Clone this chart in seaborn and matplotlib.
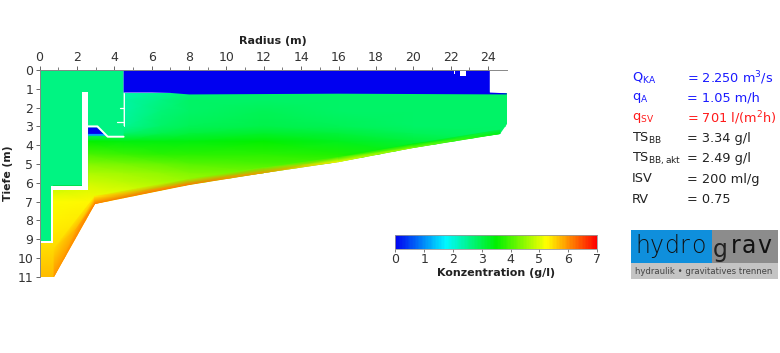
import numpy as np
import pandas as pd
import seaborn as sns
import matplotlib
matplotlib.use('Agg')
import matplotlib.pyplot as plt
from matplotlib.colors import LinearSegmentedColormap
from matplotlib.patches import Polygon, Rectangle

# Konzentration (g/l), one list per radius station
field_radius = [0, 2.6, 4.5, 6.5, 8, 12, 16, 20, 25]
field_depth = [1.2, 1.6, 2.2, 3.0, 3.4, 3.8, 4.5, 5.0, 5.5, 6.0, 7.0, 8.0, 9.0, 11.0]
conc_r0 = [3.6, 3.6, 3.6, 3.6, 3.6, 3.6, 3.9, 4.2, 4.5, 4.7, 5.2, 5.3, 5.4, 5.7]
conc_r26 = [2.3, 2.3, 2.3, 2.3, 2.7, 3.5, 4.0, 4.4, 4.7, 4.9, 5.3, 5.4, 5.5, 5.7]
conc_r45 = [2.3, 2.4, 2.4, 2.5, 2.8, 3.4, 3.9, 4.3, 4.6, 4.8, 5.2, 5.4, 5.5, 5.7]
conc_r65 = [2.5, 2.6, 2.7, 2.8, 3.0, 3.4, 3.8, 4.2, 4.5, 4.7, 5.1, 5.3, 5.4, 5.6]
conc_r8 = [2.7, 2.8, 2.8, 2.9, 3.1, 3.4, 3.8, 4.1, 4.4, 4.6, 5.0, 5.2, 5.3, 5.5]
conc_r12 = [2.8, 2.8, 2.9, 3.0, 3.2, 3.5, 3.8, 4.0, 4.3, 4.6, 5.0, 5.2, 5.3, 5.5]
conc_r16 = [2.8, 2.8, 2.8, 2.9, 3.1, 3.3, 3.7, 4.0, 4.3, 4.6, 5.0, 5.2, 5.3, 5.5]
conc_r20 = [2.8, 2.8, 2.8, 2.8, 2.9, 3.1, 3.5, 3.9, 4.3, 4.6, 5.0, 5.2, 5.3, 5.5]
conc_r25 = [2.8, 2.8, 2.8, 2.8, 2.8, 2.9, 3.5, 3.9, 4.3, 4.6, 5.0, 5.2, 5.3, 5.5]

# sohle: tank floor, with the denser layer along it
floor_radius = [0.78, 2.97, 8, 12, 16, 20, 24.63]
floor_depth = [11.0, 7.13, 6.1, 5.5, 4.9, 4.15, 3.4]
layer_thick = [1.5, 0.4, 0.3, 0.3, 0.25, 0.2, 0.2]
layer_top_conc = [5.5, 5.4, 4.5, 4.2, 3.9, 3.4, 3.0]
layer_floor_conc = [6.0, 6.2, 6.2, 6.0, 5.3, 4.5, 3.4]

inner_conc = 2.6
scale_values = np.arange(0, 7.05, 0.05)
cbar_ticks = [0, 1, 2, 3, 4, 5, 6, 7]

info_labels = [r'Q$_{\mathrm{KA}}$', r'q$_{\mathrm{A}}$', r'q$_{\mathrm{SV}}$', r'TS$_{\mathrm{BB}}$',
               r'TS$_{\mathrm{BB,akt}}$', 'ISV', 'RV']
info_values = [r'= 2.250 m$^3$/s', '= 1.05 m/h', r'= 701 l/(m$^2$h)', '= 3.34 g/l',
               '= 2.49 g/l', '= 200 ml/g', '= 0.75']
info_colors = ['#1a1aff', '#1a1aff', '#ff1a1a', '#222222', '#222222', '#222222', '#222222']
logo_hydro = ['h', 'y', 'd', 'r', 'o']
logo_grav = ['r', 'a', 'v']

sns.set_theme(style='white', font='DejaVu Sans')
cmap = LinearSegmentedColormap.from_list('konz', ['#0000f0', '#00f8ff', '#00f000', '#ffff00', '#ff0000'])
W, H = 780, 353
fig = plt.figure(figsize=(W / 100, H / 100), dpi=100)


def px_axes(x0, y0, x1, y1):
    return fig.add_axes([x0 / W, 1 - y1 / H, (x1 - x0) / W, (y1 - y0) / H])


ax = px_axes(39.5, 70, 506.7, 276.7)
norm = plt.Normalize(0, 7)

# Absetzbecken
outline = [(0, 9.2), (0.74, 9.2), (0.74, 6.3), (2.6, 6.3), (2.6, 3.0), (4.5, 3.0), (4.5, 1.2), (25, 1.2),
           (25, 2.85)] + list(zip(floor_radius[::-1], floor_depth[::-1])) + [(0, 11)]
clip = Polygon(outline, closed=True, transform=ax.transData, fc='none', ec='none')
ax.add_patch(clip)
X, Y = np.meshgrid(field_radius, field_depth)
C = np.array([conc_r0, conc_r26, conc_r45, conc_r65, conc_r8, conc_r12, conc_r16, conc_r20, conc_r25]).T
mesh = ax.pcolormesh(X, Y, C, cmap=cmap, norm=norm, shading='gouraud')
mesh.set_clip_path(clip)

# layer along the floor
fr = np.array(floor_radius)
fd = np.array(floor_depth)
LX = np.vstack([fr, fr])
LY = np.vstack([fd - np.array(layer_thick), fd])
LC = np.vstack([layer_top_conc, layer_floor_conc])
layer = ax.pcolormesh(LX, LY, LC, cmap=cmap, norm=norm, shading='gouraud')
layer.set_clip_path(clip)

# Einlaufbauwerk
ax.add_patch(Polygon([(0, 0), (4.5, 0), (4.5, 3.55), (3.65, 3.55), (3.1, 3.0), (2.6, 3.0), (2.6, 6.2),
                      (0.7, 6.2), (0.7, 9.15), (0, 9.15)], fc=cmap(norm(inner_conc)), ec='none', zorder=3))
ax.add_patch(Polygon([(2.6, 3.05), (3.05, 3.05), (3.5, 3.45), (2.6, 3.45)], fc=cmap(0.0), ec='none', zorder=3))
ax.add_patch(Polygon([(2.6, 3.4), (3.5, 3.4), (3.6, 3.5), (2.6, 3.5)], fc='#00a0ff', ec='none', zorder=3))
ax.add_patch(Polygon([(0.74, 6.1), (2.3, 6.1), (2.3, 6.17), (0.74, 6.17)], fc='#00e050', ec='none', zorder=3))

# Klarwasser
ax.add_patch(Polygon([(4.5, 0), (24.1, 0), (24.1, 1.2), (25, 1.24), (25, 1.3), (16, 1.26), (8, 1.3), (7, 1.22),
                      (6, 1.2), (4.5, 1.2)], fc=cmap(0.0), ec='none', zorder=3))

# white walls
for xy in [[(2.3, 1.18), (2.6, 1.18), (2.6, 6.38), (0.74, 6.38), (0.74, 9.22), (0, 9.22), (0, 9.12), (0.62, 9.12),
            (0.62, 6.15), (2.3, 6.15)],
           [(22.5, 0), (22.8, 0), (22.8, 0.3), (22.5, 0.3)],
           [(22.18, 0), (22.24, 0), (22.24, 0.22), (22.18, 0.22)],
           [(24.1, 0), (25.2, 0), (25.2, 1.2), (24.1, 1.16)]]:
    ax.add_patch(Polygon(xy, fc='white', ec='none', zorder=4))
ax.plot([2.6, 3.1, 3.65, 4.5], [3.0, 3.0, 3.55, 3.55], color='white', lw=1.4, zorder=5)
ax.plot([4.5, 4.5], [1.2, 3.0], color='white', lw=0.7, zorder=5)
ax.plot([4.3, 4.5], [2.0, 2.0], color='white', lw=0.9, zorder=5)
ax.plot([4.15, 4.5], [2.75, 2.75], color='white', lw=0.9, zorder=5)

ax.set_xlim(0, 25)
ax.set_ylim(11, 0)
ax.xaxis.tick_top()
ax.xaxis.set_label_position('top')
ax.set_xticks(range(0, 25, 2))
ax.set_xticks(range(1, 25, 2), minor=True)
ax.set_yticks(range(0, 12))
ax.tick_params(axis='both', which='major', length=3, width=0.7, color='#666666', labelsize=9,
               labelcolor='#333333', pad=1.5, left=True, top=True, bottom=False)
ax.tick_params(axis='x', which='minor', length=2, width=0.6, color='#666666', top=True, bottom=False)
for side in ['right', 'bottom']:
    ax.spines[side].set_visible(False)
for side in ['top', 'left']:
    ax.spines[side].set_color('#888888')
    ax.spines[side].set_linewidth(0.7)
    ax.spines[side].set_zorder(6)
ax.set_xlabel('Radius (m)', fontsize=8, fontweight='bold', color='#222222', labelpad=4.5)
ax.set_ylabel('Tiefe (m)', fontsize=7.8, fontweight='bold', color='#222222')
ax.yaxis.set_label_coords((13 - 39.5) / 467.2, 0.5)

# Legende
cax = px_axes(395.3, 235.3, 597, 249)
strip = pd.DataFrame([scale_values])
sns.heatmap(strip, ax=cax, cmap=cmap, vmin=0, vmax=7, cbar=False, xticklabels=False, yticklabels=False)
cax.set_xlim(0.5, 140.5)
cax.set_xticks([v * 20 + 0.5 for v in cbar_ticks])
cax.set_xticklabels(cbar_ticks)
cax.tick_params(axis='x', length=2, width=0.6, color='#666666', labelsize=9, labelcolor='#333333', pad=1, bottom=True)
cax.set_xlabel('Konzentration (g/l)', fontsize=8, fontweight='bold', color='#222222', labelpad=1)
for side in cax.spines.values():
    side.set_visible(True)
    side.set_color('#999999')
    side.set_linewidth(0.6)

# Kennwerte and logo, in pixel coordinates of the figure
over = fig.add_axes([0, 0, 1, 1], facecolor='none')
over.set_xlim(0, W)
over.set_ylim(H, 0)
over.axis('off')
for i in range(len(info_labels)):
    y = 78 + i * 20.2
    over.text(632, y, info_labels[i], color=info_colors[i], fontsize=9.3, va='center')
    over.text(687, y, info_values[i], color=info_colors[i], fontsize=9.3, va='center')

over.add_patch(Rectangle((631, 230), 81, 33, fc='#0f8fdc', ec='none'))
over.add_patch(Rectangle((712, 230), 66, 33, fc='#8c8c8c', ec='none'))
over.add_patch(Rectangle((631, 263), 147, 16, fc='#c4c4c4', ec='none'))
for ch, x in zip(logo_hydro, [635, 650, 664, 679, 691]):
    over.text(x, 246, ch, color='#111111', fontsize=17, va='center', ha='left', fontweight='light')
over.text(713, 250, 'g', color='#222222', fontsize=17, va='center', ha='left')
for ch, x in zip(logo_grav, [731, 742, 757]):
    over.text(x, 246, ch, color='#111111', fontsize=17, va='center', ha='left')
over.text(635, 271.5, 'hydraulik \u2022 gravitatives trennen', color='#444444', fontsize=6.1, va='center', ha='left')

fig.savefig('out.png', dpi=100)
